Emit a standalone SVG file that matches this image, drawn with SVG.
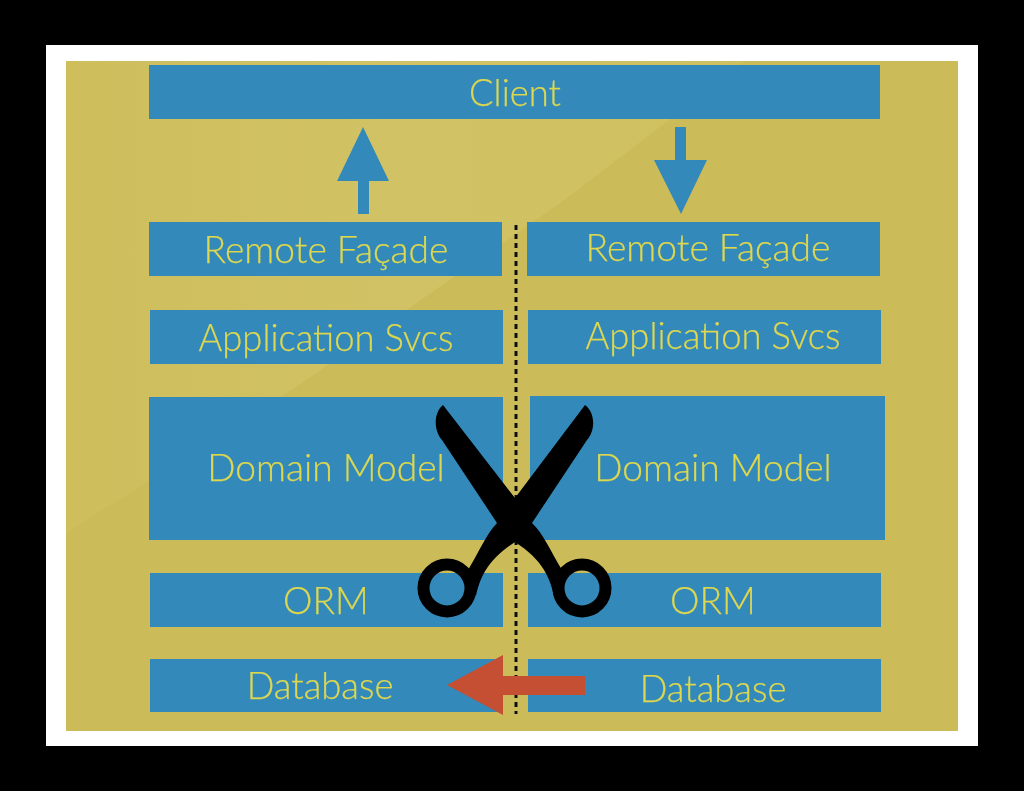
<svg xmlns="http://www.w3.org/2000/svg" width="1024" height="791" viewBox="0 0 1024 791">
<style>
.b{fill:#3389ba}
.t{font-family:"Lato","Open Sans",sans-serif;font-weight:300;font-size:36.4px;fill:#dfd84f;stroke:#dfd84f;stroke-width:.25;text-anchor:middle}
.w{font-size:37.2px}
.h{fill:none;stroke:#000;stroke-width:12}
</style>
<defs>
<filter id="s" x="-5%" y="-5%" width="110%" height="110%"><feGaussianBlur stdDeviation="0.6"/></filter>
<linearGradient id="g" x1="0" y1="0" x2="1" y2="0"><stop offset="0" stop-color="#cebe5c"/><stop offset="0.5" stop-color="#d1c265"/><stop offset="1" stop-color="#cfc05f"/></linearGradient>
</defs>
<rect width="1024" height="791" fill="#000"/>
<rect x="46" y="45" width="932" height="701" fill="#fff"/>
<rect x="66" y="61" width="892" height="670" fill="#ccbc59"/>
<path d="M66 61H745L660 127L560 203L287 393L66 533Z" fill="url(#g)"/>
<g filter="url(#s)">
<g id="client"><rect class="b" x="149" y="65" width="731" height="54"/><text class="t" x="515" y="106">Client</text></g>
<g id="facade-l"><rect class="b" x="149" y="222" width="353" height="54"/><text class="t w" x="326" y="263">Remote Façade</text></g>
<g id="facade-r"><rect class="b" x="527" y="222" width="353" height="54"/><text class="t w" x="708" y="261">Remote Façade</text></g>
<g id="app-l"><rect class="b" x="150" y="310" width="353" height="54"/><text class="t" x="326" y="351">Application Svcs</text></g>
<g id="app-r"><rect class="b" x="528" y="310" width="353" height="54"/><text class="t" x="713" y="349">Application Svcs</text></g>
<g id="domain-l"><rect class="b" x="149" y="397" width="354" height="143"/><text class="t w" x="326" y="481">Domain Model</text></g>
<g id="domain-r"><rect class="b" x="530" y="396" width="355" height="144"/><text class="t w" x="713" y="481">Domain Model</text></g>
<g id="orm-l"><rect class="b" x="150" y="573" width="353" height="54"/><text class="t w" x="326" y="614">ORM</text></g>
<g id="orm-r"><rect class="b" x="528" y="573" width="353" height="54"/><text class="t w" x="713" y="614">ORM</text></g>
<g id="db-l"><rect class="b" x="150" y="659" width="353" height="53"/><text class="t" x="320" y="699">Database</text></g>
<g id="db-r"><rect class="b" x="528" y="659" width="353" height="53"/><text class="t" x="713" y="702">Database</text></g>
<g id="connectors">
<path d="M516 225V714" fill="none" stroke="#111" stroke-width="3" stroke-dasharray="5 4"/>
<path class="b" d="M363 127L389 181H369V214H358V181H337Z"/>
<path class="b" d="M675 127H686V160H707L681 214L654 160H675Z"/>
<path fill="#c44f30" d="M447 685L503 655V676H585V695H503V715Z"/>
</g>
<g id="scissors">
<path fill="#000" d="M443 405C434 412 433 430 442 440L497 523C487 533 479 552 468 570L476 596C480 578 487 560 515 542C543 560 550 578 554 596L562 570C551 552 543 533 532 523L587 440C596 430 595 412 585 405L515 498Z"/>
<circle class="h" cx="447" cy="588" r="23.5"/>
<circle class="h" cx="582" cy="588" r="23.5"/>
</g>
</g>
</svg>
